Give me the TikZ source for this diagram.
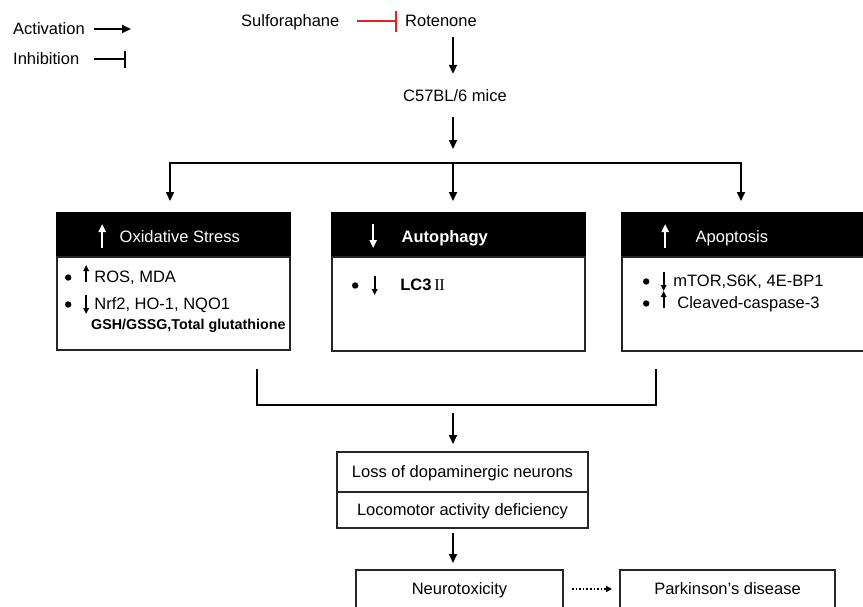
\documentclass[tikz,border=0pt]{standalone}
\usepackage{fontspec}
\setmainfont{Liberation Sans}
\newfontfamily\romanfont{Liberation Serif}
\usepackage{tikz}
\usetikzlibrary{arrows.meta, positioning, calc}
\definecolor{inhibred}{RGB}{226,32,38}

% small glyph arrows and bullets used inside the panels
\newcommand{\hdup}{\tikz[baseline=0pt]\draw[white, line width=2pt, -{Triangle[length=8pt,width=7pt]}] (0pt,-6pt) -- (0pt,18pt);}
\newcommand{\hddown}{\tikz[baseline=0pt]\draw[white, line width=2pt, -{Triangle[length=8pt,width=7pt]}] (0pt,18pt) -- (0pt,-6pt);}
\newcommand{\smup}{\tikz[baseline=0pt]\draw[line width=1.7pt, -{Triangle[length=6pt,width=5.5pt]}] (0pt,0pt) -- (0pt,17pt);}
\newcommand{\smdown}{\tikz[baseline=0pt]\draw[line width=1.7pt, -{Triangle[length=6pt,width=5.5pt]}] (0pt,14pt) -- (0pt,-5pt);}
\newcommand{\bdot}{\tikz[baseline=0pt]\fill (0pt,4.5pt) circle (3.2pt);}

\begin{document}
\begin{tikzpicture}[x=1pt, y=-1pt, font=\fontsize{16.5}{19}\selectfont,
    lbl/.style={inner sep=0pt, text height=13pt, text depth=3pt},
    entry/.style={lbl, anchor=base west},
    hdtxt/.style={entry, text=white},
    head/.style={draw=black, fill=black, line width=1.3pt, inner sep=0pt, outer sep=0pt},
    panel/.style={draw=black!85, fill=white, line width=1.3pt, inner sep=0pt, outer sep=0pt},
    box/.style={draw=black!85, line width=1.3pt, inner sep=0pt, outer sep=0pt, text height=13pt, text depth=3pt},
    arr/.style={line width=1.9pt, -{Triangle[length=9pt,width=8pt]}},
    inh/.style={line width=2pt, -{Bar[width=17pt, line width=2.2pt]}}]

    \useasboundingbox (0,0) rectangle (863,606);
    \clip (0,0) rectangle (863,606);
    \fill[white] (0,0) rectangle (863,606);

    % legend
    \node[entry] (act) at (13,34) {Activation};
    \node[entry] (inhib) at (13,64) {Inhibition};
    \coordinate (actend) at (131,0);
    \coordinate (inhend) at (126,0);
    \draw[arr, shorten <=9pt] (act.east) -- (act.east -| actend);
    \draw[inh, shorten <=15pt] (inhib.east) -- (inhib.east -| inhend);

    % treatment and model
    \node[entry] (sulfo) at (241,26) {Sulforaphane};
    \node[entry] (rot) at (405,26) {Rotenone};
    \node[lbl, anchor=base] (mice) at (455,101) {C57BL/6 mice};
    \draw[inh, inhibred, shorten <=17pt, shorten >=8pt,
          -{Bar[width=21pt, line width=2pt]}] (sulfo.east) -- (rot.west);

    \coordinate (split) at (453,163);
    \coordinate (splitL) at (170,163);
    \coordinate (splitR) at (741,163);
    \draw[arr, shorten <=8pt, shorten >=14pt] (rot.south -| split) -- (mice.north -| split);
    \draw[arr, shorten <=13pt, shorten >=14pt] (mice.south -| split) -- (split);

    % three panels
    \node[head, minimum width=233pt, minimum height=44pt, anchor=north west] (oxhead) at (57,213) {};
    \node[panel, minimum width=233pt, minimum height=93pt, anchor=north west] (oxbody) at (oxhead.south west) {};
    \node[head, minimum width=253pt, minimum height=44pt, anchor=north west] (autohead) at (332,213) {};
    \node[panel, minimum width=253pt, minimum height=94pt, anchor=north west] (autobody) at (autohead.south west) {};
    \node[head, minimum width=260pt, minimum height=44pt, anchor=north west] (apohead) at (622,213) {};
    \node[panel, minimum width=260pt, minimum height=94pt, anchor=north west] (apobody) at (apohead.south west) {};

    \draw[line width=1.9pt, line cap=rect] (splitL) -- (splitR);
    \draw[arr, shorten >=12pt] (splitL) -- (splitL |- oxhead.north);
    \draw[arr, shorten >=12pt] (split) -- (split |- autohead.north);
    \draw[arr, shorten >=12pt] (splitR) -- (splitR |- apohead.north);

    \node[hdtxt] (oxtitle) at (98.5,242) {\hdup\hspace{14pt}Oxidative Stress};
    \node[hdtxt] (autotitle) at (369.5,242) {\hddown\hspace{25pt}\textbf{Autophagy}};
    \node[hdtxt] (apotitle) at (661.5,242) {\hdup\hspace{27pt}Apoptosis};

    \node[entry] (ros) at (64.8,282) {\bdot\hspace{12pt}\smup\hspace{5.5pt}ROS, MDA};
    \node[entry] (nrf) at (64.8,309) {\bdot\hspace{12pt}\smdown\hspace{5.5pt}Nrf2, HO-1, NQO1};
    \node[entry, font=\fontsize{14.3}{17}\selectfont\bfseries] (gsh) at (91,329) {GSH/GSSG,Total glutathione};
    \node[entry] (lc3) at (351.8,290) {\bdot\hspace{13.5pt}\smdown\hspace{23pt}\textbf{LC3}\,{\romanfont I\kern-0.5pt I}};
    \node[entry] (mtor) at (642.8,286) {\bdot\hspace{11.5pt}\smdown\hspace{7pt}mTOR,S6K, 4E-BP1};
    \node[entry] (casp) at (642.8,308) {\bdot\hspace{11.5pt}\smup\hspace{11pt}Cleaved-caspase-3};

    % merging bracket
    \coordinate (joinL) at (257,369);
    \coordinate (join) at (453,405);
    \coordinate (joinR) at (656,369);
    \draw[line width=1.9pt] (joinL) |- (join) -| (joinR);

    % outcome
    \node[box, minimum width=251pt, minimum height=40pt, anchor=north west] (loss) at (337,452) {Loss of dopaminergic neurons};
    \node[box, minimum width=251pt, minimum height=36pt, below=0pt of loss] (loco) {Locomotor activity deficiency};
    \node[box, minimum width=207pt, minimum height=38pt, anchor=north west] (neuro) at (356,570) {Neurotoxicity};
    \node[box, minimum width=215pt, minimum height=38pt, anchor=north west] (park) at (620,570) {Parkinson’s disease};

    \draw[arr, shorten <=8pt, shorten >=8pt] (join) -- (join |- loss.north);
    \draw[arr, shorten <=5pt, shorten >=7pt] (loco.south -| join) -- (neuro.north -| join);
    \draw[line width=1.6pt, dotted, -{Triangle[length=6pt,width=6pt]},
          shorten <=9pt, shorten >=8pt] (neuro.east) -- (park.west);
\end{tikzpicture}
\end{document}
